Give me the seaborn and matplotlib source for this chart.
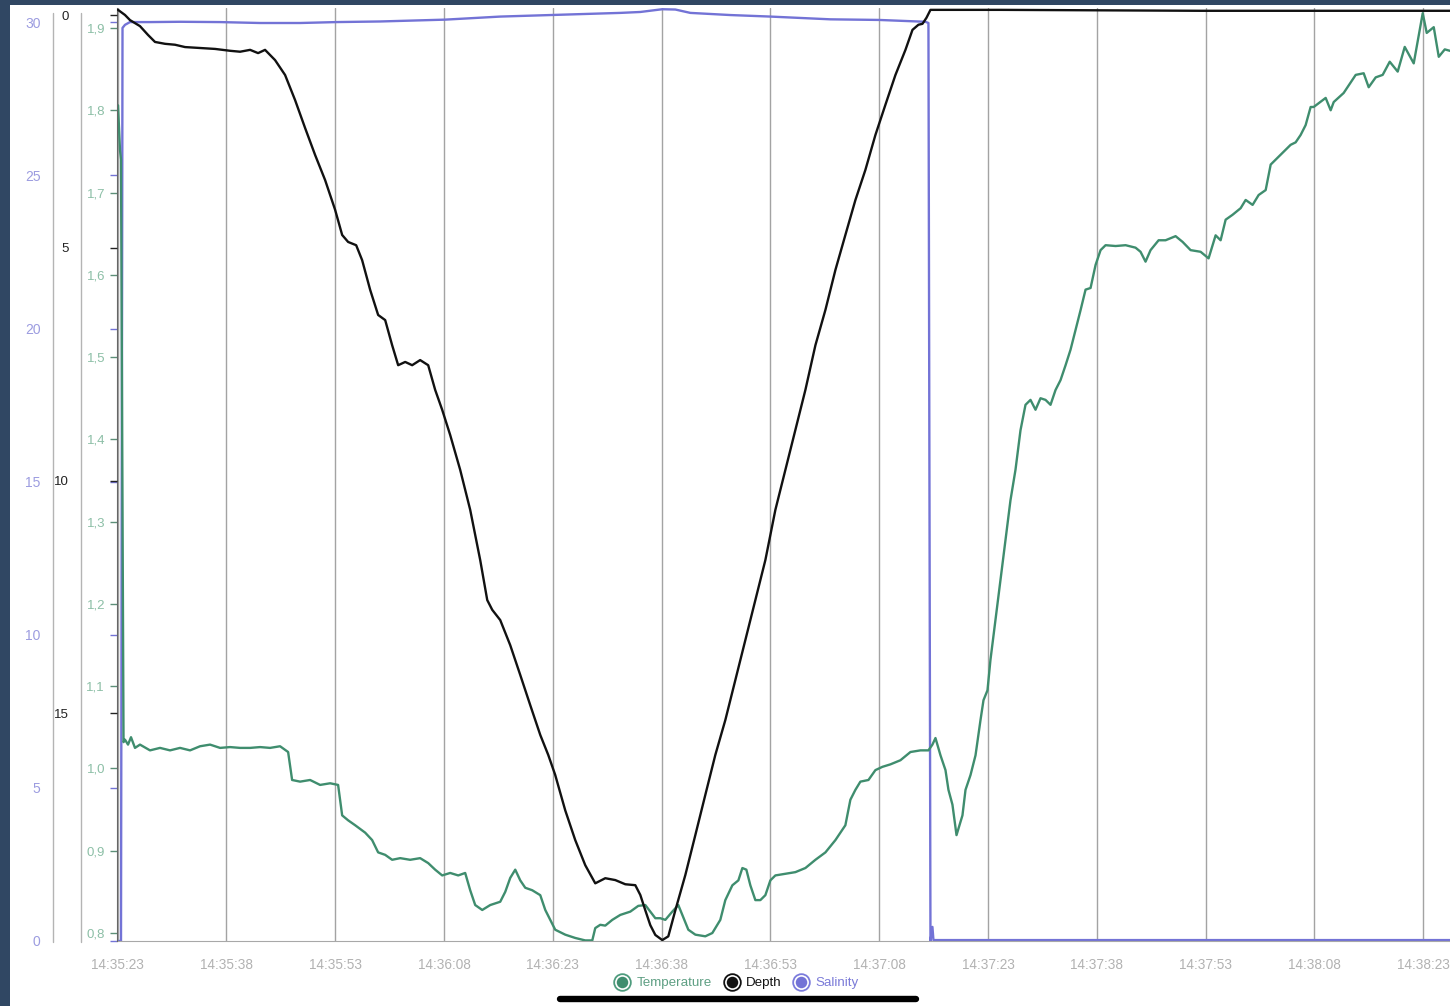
import numpy as np
import pandas as pd
import matplotlib
matplotlib.use("Agg")
import matplotlib.pyplot as plt
from matplotlib.lines import Line2D
from matplotlib.patches import Rectangle
from matplotlib.legend_handler import HandlerTuple
from matplotlib.ticker import FixedLocator, FuncFormatter
import seaborn as sns

# ---------------------------------------------------------------- data
# x axis: seconds after 14:35:23
tick_seconds = [0, 15, 30, 45, 60, 75, 90, 105, 120, 135, 150, 165, 180]
time_labels = ["14:35:23", "14:35:38", "14:35:53", "14:36:08", "14:36:23",
               "14:36:38", "14:36:53", "14:37:08", "14:37:23", "14:37:38",
               "14:37:53", "14:38:08", "14:38:23"]

series_names = ["Temperature", "Depth", "Salinity"]

# (seconds, °C)
temperature = [
    (0.07, 1.806), (0.34, 1.752), (0.48, 1.740), (0.83, 1.032), (1.03, 1.035),
    (1.45, 1.029), (1.86, 1.038), (2.41, 1.025), (3.10, 1.029), (4.48, 1.022),
    (5.86, 1.025), (7.24, 1.022), (8.62, 1.025), (10.00, 1.022), (11.38, 1.027),
    (12.76, 1.029), (14.14, 1.025), (15.52, 1.026), (16.90, 1.025), (18.28, 1.025),
    (19.66, 1.026), (21.03, 1.025), (22.41, 1.027), (23.52, 1.020), (24.07, 0.986),
    (25.17, 0.984), (26.55, 0.986), (27.93, 0.980), (29.31, 0.982), (30.41, 0.980),
    (30.97, 0.943), (31.79, 0.937), (32.76, 0.931), (34.14, 0.922), (35.10, 0.913),
    (35.93, 0.898), (36.90, 0.895), (37.86, 0.889), (38.97, 0.891), (40.34, 0.889),
    (41.72, 0.891), (42.83, 0.885), (43.79, 0.877), (44.76, 0.870), (45.86, 0.873),
    (46.97, 0.870), (47.93, 0.873), (48.62, 0.852), (49.31, 0.834), (50.28, 0.828),
    (51.38, 0.834), (52.76, 0.838), (53.45, 0.850), (54.14, 0.867), (54.83, 0.877),
    (55.52, 0.864), (56.21, 0.855), (57.17, 0.852), (58.28, 0.846), (58.97, 0.828),
    (59.66, 0.816), (60.34, 0.804), (61.72, 0.798), (63.10, 0.794), (64.48, 0.791),
    (65.45, 0.791), (65.86, 0.806), (66.55, 0.810), (67.24, 0.809), (68.21, 0.816),
    (69.31, 0.822), (70.69, 0.826), (71.79, 0.833), (72.76, 0.834), (73.45, 0.826),
    (74.14, 0.818), (74.83, 0.818), (75.52, 0.816), (76.48, 0.826), (77.31, 0.834),
    (77.86, 0.822), (78.69, 0.804), (79.66, 0.798), (81.03, 0.796), (82.00, 0.800),
    (83.10, 0.816), (83.79, 0.840), (84.76, 0.858), (85.59, 0.864), (86.14, 0.879),
    (86.69, 0.877), (87.24, 0.858), (87.93, 0.840), (88.62, 0.840), (89.31, 0.846),
    (90.00, 0.864), (90.69, 0.870), (92.07, 0.872), (93.45, 0.874), (94.83, 0.879),
    (96.21, 0.889), (97.59, 0.898), (98.97, 0.913), (100.34, 0.931), (101.03, 0.962),
    (101.72, 0.974), (102.41, 0.984), (103.52, 0.986), (104.48, 0.998), (105.45, 1.002),
    (106.55, 1.005), (107.93, 1.010), (109.31, 1.020), (110.69, 1.022), (111.79, 1.022),
    (112.34, 1.029), (112.76, 1.037), (113.45, 1.016), (114.14, 0.998), (114.55, 0.974),
    (115.10, 0.956), (115.66, 0.919), (116.48, 0.943), (116.90, 0.974), (117.59, 0.992),
    (118.28, 1.016), (118.97, 1.059), (119.38, 1.083), (119.93, 1.095), (120.34, 1.132),
    (121.03, 1.180), (121.72, 1.229), (122.41, 1.278), (123.10, 1.326), (123.79, 1.363),
    (124.48, 1.411), (125.17, 1.442), (125.86, 1.448), (126.55, 1.436), (127.24, 1.450),
    (127.93, 1.448), (128.62, 1.442), (129.31, 1.460), (130.00, 1.472), (130.69, 1.490),
    (131.38, 1.509), (132.07, 1.533), (132.76, 1.557), (133.45, 1.582), (134.14, 1.584),
    (134.83, 1.612), (135.52, 1.630), (136.21, 1.636), (137.59, 1.635), (138.97, 1.636),
    (140.34, 1.633), (141.03, 1.628), (141.72, 1.616), (142.41, 1.630), (143.52, 1.642),
    (144.48, 1.642), (145.86, 1.647), (146.83, 1.640), (147.93, 1.630), (149.31, 1.628),
    (150.41, 1.620), (150.97, 1.636), (151.38, 1.648), (152.07, 1.642), (152.76, 1.667),
    (153.72, 1.673), (154.83, 1.681), (155.52, 1.691), (156.48, 1.685), (157.31, 1.697),
    (158.28, 1.703), (158.97, 1.734), (159.66, 1.740), (160.34, 1.746), (161.03, 1.752),
    (161.72, 1.758), (162.41, 1.761), (163.10, 1.770), (163.79, 1.782), (164.48, 1.804),
    (164.90, 1.804), (166.55, 1.815), (167.24, 1.800), (167.66, 1.810), (169.03, 1.821),
    (170.69, 1.843), (171.79, 1.845), (172.48, 1.828), (173.45, 1.840), (174.41, 1.843),
    (175.38, 1.859), (176.48, 1.847), (177.45, 1.877), (178.69, 1.857), (179.93, 1.918),
    (180.48, 1.894), (181.45, 1.901), (182.14, 1.865), (182.97, 1.874), (183.79, 1.872),
]

# (seconds, metres)
depth = [
    (0.07, -0.12), (1.03, -0.01), (1.72, 0.10), (3.10, 0.23), (4.21, 0.42),
    (5.17, 0.57), (6.55, 0.61), (7.93, 0.63), (9.31, 0.68), (11.38, 0.70),
    (13.45, 0.72), (15.52, 0.76), (16.90, 0.78), (18.28, 0.74), (19.38, 0.81),
    (20.34, 0.74), (21.72, 0.96), (23.10, 1.28), (24.48, 1.82), (25.86, 2.42),
    (27.24, 3.00), (28.62, 3.54), (30.00, 4.18), (30.97, 4.72), (31.79, 4.87),
    (32.90, 4.94), (33.72, 5.26), (34.83, 5.90), (35.93, 6.44), (36.90, 6.55),
    (37.86, 7.09), (38.69, 7.52), (39.66, 7.45), (40.62, 7.52), (41.72, 7.41),
    (42.83, 7.52), (43.79, 8.05), (44.76, 8.48), (45.86, 9.02), (47.24, 9.77),
    (48.62, 10.63), (50.00, 11.71), (50.97, 12.57), (51.66, 12.78), (52.76, 13.00),
    (54.14, 13.54), (55.52, 14.18), (56.90, 14.83), (58.28, 15.47), (59.38, 15.90),
    (60.34, 16.33), (61.72, 17.09), (63.10, 17.73), (64.48, 18.27), (65.86, 18.66),
    (67.24, 18.55), (68.62, 18.59), (70.00, 18.68), (71.38, 18.70), (72.07, 18.91),
    (72.76, 19.24), (73.45, 19.56), (74.14, 19.77), (75.10, 19.88), (75.93, 19.80),
    (76.90, 19.24), (78.28, 18.48), (79.66, 17.62), (81.03, 16.76), (82.41, 15.90),
    (83.79, 15.15), (85.17, 14.29), (86.55, 13.43), (87.93, 12.57), (89.31, 11.71),
    (90.69, 10.63), (92.07, 9.77), (93.45, 8.91), (94.83, 8.05), (96.21, 7.09),
    (97.59, 6.33), (98.97, 5.47), (100.34, 4.72), (101.72, 3.97), (103.10, 3.32),
    (104.48, 2.57), (105.86, 1.92), (107.24, 1.28), (108.62, 0.74), (109.59, 0.31),
    (110.41, 0.20), (110.97, 0.18), (111.52, 0.05), (112.07, -0.12), (121.72, -0.12),
    (149.31, -0.10), (183.79, -0.10),
]

# (seconds, PSU)
salinity = [
    (0.07, 0.0), (0.48, 0.0), (0.69, 29.82), (1.03, 29.92), (1.72, 30.01),
    (4.48, 30.01), (8.62, 30.02), (14.14, 30.01), (19.66, 29.98), (25.17, 29.98),
    (30.14, 30.01), (36.21, 30.03), (45.17, 30.09), (52.76, 30.19), (59.66, 30.24),
    (63.79, 30.27), (69.31, 30.31), (72.07, 30.34), (75.10, 30.43), (76.90, 30.42),
    (78.97, 30.31), (84.48, 30.24), (90.00, 30.19), (98.28, 30.10), (104.97, 30.08),
    (111.38, 30.02), (111.79, 29.98), (112.07, 0.0), (112.34, 0.46), (112.48, 0.03),
    (121.72, 0.03), (183.79, 0.03),
]

temp_ticks = [0.8, 0.9, 1.0, 1.1, 1.2, 1.3, 1.4, 1.5, 1.6, 1.7, 1.8, 1.9]
depth_ticks = [0, 5, 10, 15]
sal_ticks = [0, 5, 10, 15, 20, 25, 30]

# ---------------------------------------------------------------- style
TEMP = "#3f8d6e"
DEPTH = "#111111"
SAL = "#7373d6"
TEMP_LABEL = "#8cbfa6"
SAL_LABEL = "#9c9ce0"
GRID = "#a3a3a3"

sns.set_style("white")
plt.rcParams["font.family"] = ["Liberation Sans", "DejaVu Sans"]

W, H = 1450, 1006
fig = plt.figure(figsize=(W / 100, H / 100), dpi=100)
fig.patch.set_facecolor("#304763")
fig.add_artist(Rectangle((10 / W, 0), 1 - 10 / W, (H - 5) / H,
                         transform=fig.transFigure, facecolor="white",
                         edgecolor="none", zorder=-10))

ax = fig.add_axes([117 / W, (H - 941) / H, (W - 117) / W, (941 - 8) / H])
ax.set_facecolor("white")
ax_t = ax.twinx()
ax_d = ax.twinx()

df_s = pd.DataFrame(salinity, columns=["t", "v"])
df_t = pd.DataFrame(temperature, columns=["t", "v"])
df_d = pd.DataFrame(depth, columns=["t", "v"])

sns.lineplot(data=df_s, x="t", y="v", ax=ax, color=SAL, lw=1.7,
             estimator=None, sort=False)
sns.lineplot(data=df_t, x="t", y="v", ax=ax_t, color=TEMP, lw=1.7,
             estimator=None, sort=False)
sns.lineplot(data=df_d, x="t", y="v", ax=ax_d, color=DEPTH, lw=1.7,
             estimator=None, sort=False)

for a in (ax, ax_t, ax_d):
    a.set_xlabel("")
    a.set_ylabel("")
    for s in a.spines.values():
        s.set_visible(False)
    a.yaxis.set_ticks_position("left")
    a.yaxis.set_label_position("left")

ax.set_xlim(-0.07, 183.69)
ax.set_ylim(0, 30.47)
ax_t.set_ylim(0.7903, 1.9243)
ax_d.set_ylim(19.90, -0.16)

# x axis with vertical grid
ax.spines["bottom"].set_visible(True)
ax.spines["bottom"].set_color("#a8a8a8")
ax.xaxis.set_major_locator(FixedLocator(tick_seconds))
ax.set_xticklabels(time_labels)
ax.tick_params(axis="x", length=6, width=1, color=GRID, labelcolor="#b2b2b2",
               labelsize=9.8, pad=6)
ax.grid(axis="x", color=GRID, lw=1.0)
ax.grid(axis="y", visible=False)

# three left-hand y scales sharing one spine
ax_t.spines["left"].set_visible(True)
ax_t.spines["left"].set_color("#666666")

comma = FuncFormatter(lambda v, _: f"{v:.1f}".replace(".", ","))
ax_t.yaxis.set_major_locator(FixedLocator(temp_ticks))
ax_t.yaxis.set_major_formatter(comma)
ax_t.tick_params(axis="y", length=5, width=1, color="#5c8f78",
                 labelcolor=TEMP_LABEL, labelsize=9.5, pad=3.6)

ax_d.yaxis.set_major_locator(FixedLocator(depth_ticks))
ax_d.tick_params(axis="y", length=5, width=1, color="#222222",
                 labelcolor="#222222", labelsize=9.5, pad=30)

ax.yaxis.set_major_locator(FixedLocator(sal_ticks))
ax.tick_params(axis="y", length=5, width=1, color=SAL,
               labelcolor=SAL_LABEL, labelsize=10, pad=50)

# separators between the scale label columns
for xp in (53, 81):
    fig.add_artist(Line2D([xp / W, xp / W], [(H - 942) / H, (H - 13) / H],
                          transform=fig.transFigure, color="#b4b4b4", lw=1.0))

# legend with ringed dots
ring = {"Temperature": "#4f9c7e", "Depth": "#111111", "Salinity": "#7c7cdc"}
fill = {"Temperature": TEMP, "Depth": DEPTH, "Salinity": SAL}
text_col = {"Temperature": "#5e9f83", "Depth": "#111111", "Salinity": "#7b7bd8"}
handles = []
for name in series_names:
    outer = Line2D([], [], ls="none", marker="o", ms=12, mfc="white",
                   mec=ring[name], mew=1.3)
    inner = Line2D([], [], ls="none", marker="o", ms=8.3, mfc=fill[name],
                   mec=fill[name], mew=0)
    handles.append((outer, inner))
leg = fig.legend(handles, series_names, handler_map={tuple: HandlerTuple(ndivide=1)},
                 loc="center", bbox_to_anchor=(737 / W, (H - 983) / H), ncol=3,
                 frameon=False, fontsize=9.6, handlelength=1.0, handletextpad=0.55,
                 columnspacing=1.0, borderpad=0, borderaxespad=0)
for txt, name in zip(leg.get_texts(), series_names):
    txt.set_color(text_col[name])

# home indicator bar
fig.add_artist(Line2D([560 / W, 916 / W], [(H - 999) / H] * 2,
                      transform=fig.transFigure, color="black", lw=4.6,
                      solid_capstyle="round"))

fig.savefig("out.png", dpi=100, facecolor=fig.get_facecolor())
